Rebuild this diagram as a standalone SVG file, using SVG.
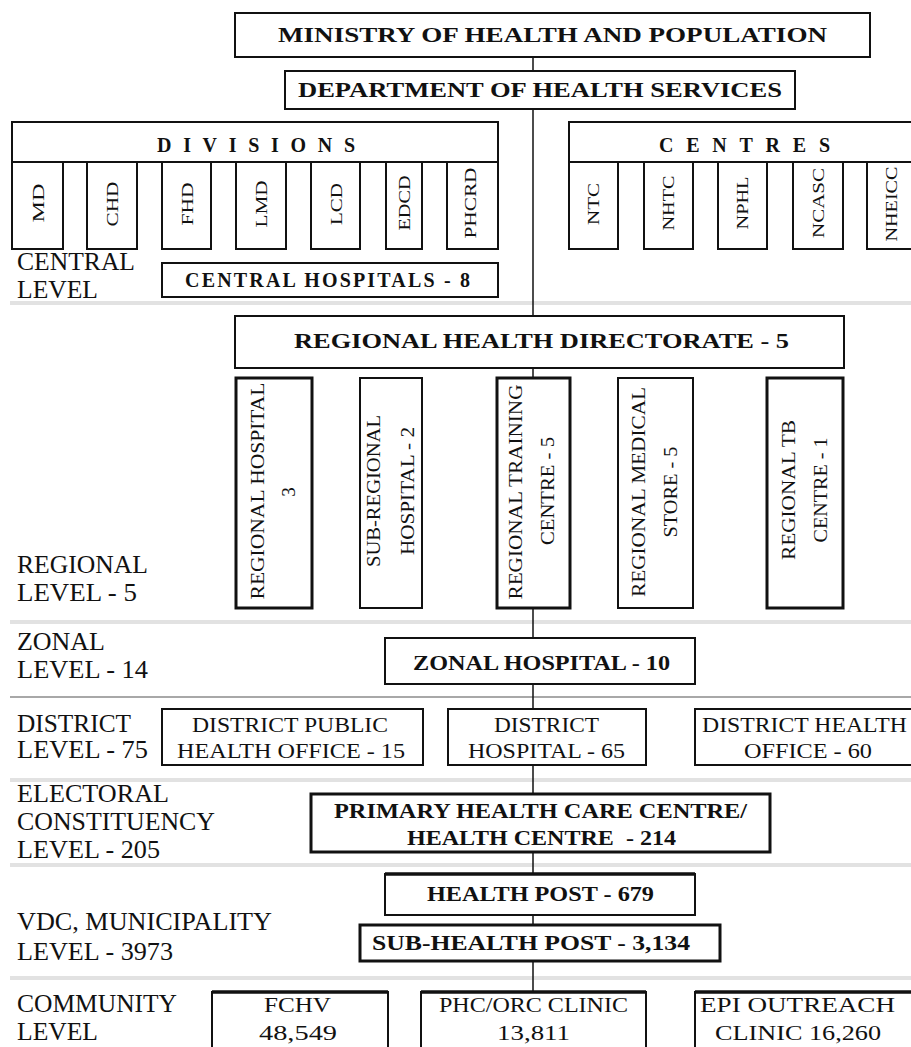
<svg xmlns="http://www.w3.org/2000/svg" width="911" height="1047" viewBox="0 0 911 1047">
<style>
text{font-family:"Liberation Serif","Times New Roman",serif;fill:#111}
.h{font-size:20px;font-weight:bold}
.lab{font-size:25px}
.t{font-size:22px}
.v{font-size:17px}
.rv{font-size:19px}
.box{fill:#fff;stroke:#111;stroke-width:2}
.thick{fill:#fff;stroke:#111;stroke-width:3}
.sep{stroke:#e2e2e2;stroke-width:4}
.sep2{stroke:#a8a8a8;stroke-width:2}
.con{stroke:#111;stroke-width:1.5;fill:none}
</style>
<rect width="911" height="1047" fill="#fff"/>
<g id="separators">
<line class="sep" x1="10" y1="303" x2="911" y2="303"/>
<line class="sep" x1="10" y1="622" x2="911" y2="622"/>
<line class="sep2" x1="10" y1="697" x2="911" y2="697"/>
<line class="sep" x1="10" y1="780" x2="911" y2="780"/>
<line class="sep" x1="10" y1="865" x2="911" y2="865"/>
<line class="sep" x1="10" y1="978" x2="911" y2="978"/>
</g>
<g id="connectors">
<line class="con" x1="533" y1="57" x2="533" y2="992"/>
</g>
<g id="levels">
<text class="lab" x="17" y="270" textLength="118" lengthAdjust="spacingAndGlyphs">CENTRAL</text>
<text class="lab" x="17" y="298" textLength="81" lengthAdjust="spacingAndGlyphs">LEVEL</text>
<text class="lab" x="17" y="573" textLength="131" lengthAdjust="spacingAndGlyphs">REGIONAL</text>
<text class="lab" x="17" y="601" textLength="120" lengthAdjust="spacingAndGlyphs">LEVEL - 5</text>
<text class="lab" x="17" y="650" textLength="88" lengthAdjust="spacingAndGlyphs">ZONAL</text>
<text class="lab" x="17" y="678" textLength="131" lengthAdjust="spacingAndGlyphs">LEVEL - 14</text>
<text class="lab" x="17" y="732" textLength="114" lengthAdjust="spacingAndGlyphs">DISTRICT</text>
<text class="lab" x="17" y="758" textLength="131" lengthAdjust="spacingAndGlyphs">LEVEL - 75</text>
<text class="lab" x="17" y="802" textLength="152" lengthAdjust="spacingAndGlyphs">ELECTORAL</text>
<text class="lab" x="17" y="830" textLength="198" lengthAdjust="spacingAndGlyphs">CONSTITUENCY</text>
<text class="lab" x="17" y="858" textLength="143" lengthAdjust="spacingAndGlyphs">LEVEL - 205</text>
<text class="lab" x="17" y="930" textLength="255" lengthAdjust="spacingAndGlyphs">VDC, MUNICIPALITY</text>
<text class="lab" x="17" y="960" textLength="156" lengthAdjust="spacingAndGlyphs">LEVEL - 3973</text>
<text class="lab" x="17" y="1012" textLength="160" lengthAdjust="spacingAndGlyphs">COMMUNITY</text>
<text class="lab" x="17" y="1040" textLength="81" lengthAdjust="spacingAndGlyphs">LEVEL</text>
</g>
<g id="ministry">
<rect class="box" x="235" y="13" width="635" height="44" stroke-width="2.5"/>
<text class="h" x="278" y="42" textLength="549" lengthAdjust="spacingAndGlyphs">MINISTRY OF HEALTH AND POPULATION</text>
</g>
<g id="department">
<rect class="box" x="285" y="71" width="510" height="38" stroke-width="2.5"/>
<text class="h" x="298" y="97" textLength="484" lengthAdjust="spacingAndGlyphs">DEPARTMENT OF HEALTH SERVICES</text>
</g>
<g id="divisions">
<rect class="box" x="12" y="122" width="486" height="40"/>
<text class="h" x="157" y="152" textLength="198">DIVISIONS</text>
<rect class="box" x="12" y="162" width="51" height="87"/>
<rect class="box" x="87" y="162" width="50" height="87"/>
<rect class="box" x="162" y="162" width="49" height="87"/>
<rect class="box" x="236" y="162" width="50" height="87"/>
<rect class="box" x="311" y="162" width="49" height="87"/>
<rect class="box" x="386" y="162" width="36" height="87"/>
<rect class="box" x="447" y="162" width="51" height="87"/>
<text class="v" text-anchor="middle" x="0" y="6" transform="translate(38,203) rotate(-90)" textLength="39" lengthAdjust="spacingAndGlyphs">MD</text>
<text class="v" text-anchor="middle" x="0" y="6" transform="translate(112,204) rotate(-90)" textLength="45" lengthAdjust="spacingAndGlyphs">CHD</text>
<text class="v" text-anchor="middle" x="0" y="6" transform="translate(187,204) rotate(-90)" textLength="43" lengthAdjust="spacingAndGlyphs">FHD</text>
<text class="v" text-anchor="middle" x="0" y="6" transform="translate(261,204) rotate(-90)" textLength="47" lengthAdjust="spacingAndGlyphs">LMD</text>
<text class="v" text-anchor="middle" x="0" y="6" transform="translate(336,204) rotate(-90)" textLength="42" lengthAdjust="spacingAndGlyphs">LCD</text>
<text class="v" text-anchor="middle" x="0" y="6" transform="translate(404,203) rotate(-90)" textLength="55" lengthAdjust="spacingAndGlyphs">EDCD</text>
<text class="v" text-anchor="middle" x="0" y="6" transform="translate(470,203) rotate(-90)" textLength="71" lengthAdjust="spacingAndGlyphs">PHCRD</text>
</g>
<g id="centres">
<rect class="box" x="569" y="122" width="360" height="40"/>
<text class="h" x="659" y="152" textLength="171">CENTRES</text>
<rect class="box" x="569" y="162" width="49" height="87"/>
<rect class="box" x="644" y="162" width="49" height="87"/>
<rect class="box" x="718" y="162" width="49" height="87"/>
<rect class="box" x="793" y="162" width="50" height="87"/>
<rect class="box" x="867" y="162" width="60" height="87"/>
<text class="v" text-anchor="middle" x="0" y="6" transform="translate(593,204) rotate(-90)" textLength="42" lengthAdjust="spacingAndGlyphs">NTC</text>
<text class="v" text-anchor="middle" x="0" y="6" transform="translate(668,203) rotate(-90)" textLength="55" lengthAdjust="spacingAndGlyphs">NHTC</text>
<text class="v" text-anchor="middle" x="0" y="6" transform="translate(742,203) rotate(-90)" textLength="53" lengthAdjust="spacingAndGlyphs">NPHL</text>
<text class="v" text-anchor="middle" x="0" y="6" transform="translate(818,203) rotate(-90)" textLength="70" lengthAdjust="spacingAndGlyphs">NCASC</text>
<text class="v" text-anchor="middle" x="0" y="6" transform="translate(891,204) rotate(-90)" textLength="75" lengthAdjust="spacingAndGlyphs">NHEICC</text>
</g>
<g id="central-hospitals">
<rect class="box" x="162" y="263" width="336" height="34"/>
<text class="h" x="185" y="287" textLength="285">CENTRAL HOSPITALS - 8</text>
</g>
<g id="rhd">
<rect class="box" x="235" y="316" width="609" height="52"/>
<text class="h" x="294" y="348" textLength="495" lengthAdjust="spacingAndGlyphs">REGIONAL HEALTH DIRECTORATE - 5</text>
</g>
<g id="regional-hospital">
<rect class="thick" x="236" y="378" width="76" height="230"/>
<text class="rv" text-anchor="middle" x="0" y="6.5" transform="translate(257,491) rotate(-90)" textLength="217" lengthAdjust="spacingAndGlyphs">REGIONAL HOSPITAL</text>
<text class="rv" text-anchor="middle" x="0" y="6.5" transform="translate(288,492) rotate(-90)">3</text>
</g>
<g id="sub-regional-hospital">
<rect class="box" x="360" y="378" width="62" height="230"/>
<text class="rv" text-anchor="middle" x="0" y="6.5" transform="translate(373,491) rotate(-90)" textLength="152" lengthAdjust="spacingAndGlyphs">SUB-REGIONAL</text>
<text class="rv" text-anchor="middle" x="0" y="6.5" transform="translate(407,491) rotate(-90)" textLength="128" lengthAdjust="spacingAndGlyphs">HOSPITAL - 2</text>
</g>
<g id="regional-training-centre">
<rect class="thick" x="497" y="378" width="73" height="230"/>
<text class="rv" text-anchor="middle" x="0" y="6.5" transform="translate(515,492) rotate(-90)" textLength="215" lengthAdjust="spacingAndGlyphs">REGIONAL TRAINING</text>
<text class="rv" text-anchor="middle" x="0" y="6.5" transform="translate(547,491) rotate(-90)" textLength="108" lengthAdjust="spacingAndGlyphs">CENTRE - 5</text>
</g>
<g id="regional-medical-store">
<rect class="box" x="618" y="378" width="75" height="230"/>
<text class="rv" text-anchor="middle" x="0" y="6.5" transform="translate(638,492) rotate(-90)" textLength="210" lengthAdjust="spacingAndGlyphs">REGIONAL MEDICAL</text>
<text class="rv" text-anchor="middle" x="0" y="6.5" transform="translate(670,492) rotate(-90)" textLength="91" lengthAdjust="spacingAndGlyphs">STORE - 5</text>
</g>
<g id="regional-tb-centre">
<rect class="thick" x="767" y="378" width="76" height="230"/>
<text class="rv" text-anchor="middle" x="0" y="6.5" transform="translate(788,490) rotate(-90)" textLength="140" lengthAdjust="spacingAndGlyphs">REGIONAL TB</text>
<text class="rv" text-anchor="middle" x="0" y="6.5" transform="translate(820,490) rotate(-90)" textLength="105" lengthAdjust="spacingAndGlyphs">CENTRE - 1</text>
</g>
<g id="zonal-hospital">
<rect class="box" x="385" y="638" width="310" height="46"/>
<text class="h" x="413" y="670" textLength="257" lengthAdjust="spacingAndGlyphs">ZONAL HOSPITAL - 10</text>
</g>
<g id="dpho">
<rect class="box" x="162" y="709" width="261" height="56"/>
<text class="t" x="192" y="732" textLength="196" lengthAdjust="spacingAndGlyphs">DISTRICT PUBLIC</text>
<text class="t" x="177" y="758" textLength="228" lengthAdjust="spacingAndGlyphs">HEALTH OFFICE - 15</text>
</g>
<g id="district-hospital">
<rect class="box" x="448" y="709" width="198" height="56"/>
<text class="t" x="494" y="732" textLength="105" lengthAdjust="spacingAndGlyphs">DISTRICT</text>
<text class="t" x="468" y="758" textLength="157" lengthAdjust="spacingAndGlyphs">HOSPITAL - 65</text>
</g>
<g id="dho">
<rect class="box" x="695" y="709" width="230" height="56"/>
<text class="t" x="702" y="732" textLength="205" lengthAdjust="spacingAndGlyphs">DISTRICT HEALTH</text>
<text class="t" x="744" y="758" textLength="128" lengthAdjust="spacingAndGlyphs">OFFICE - 60</text>
</g>
<g id="phcc">
<rect class="thick" x="311" y="794" width="459" height="58"/>
<text class="h" x="334" y="818" textLength="413" lengthAdjust="spacingAndGlyphs">PRIMARY HEALTH CARE CENTRE/</text>
<text class="h" x="407" y="845" textLength="269" lengthAdjust="spacingAndGlyphs" xml:space="preserve">HEALTH CENTRE  - 214</text>
</g>
<g id="health-post">
<rect class="box" x="385" y="874" width="310" height="41"/>
<line x1="385" y1="874" x2="695" y2="874" stroke="#111" stroke-width="3.5"/>
<text class="h" x="427" y="901" textLength="227" lengthAdjust="spacingAndGlyphs">HEALTH POST - 679</text>
</g>
<g id="sub-health-post">
<rect class="thick" x="360" y="925" width="360" height="36"/>
<text class="h" x="372" y="950" textLength="318" lengthAdjust="spacingAndGlyphs">SUB-HEALTH POST - 3,134</text>
</g>
<g id="fchv">
<rect class="box" x="212" y="992" width="176" height="70"/>
<line x1="212" y1="992" x2="388" y2="992" stroke="#111" stroke-width="3.5"/>
<text class="t" x="264" y="1012" textLength="67" lengthAdjust="spacingAndGlyphs">FCHV</text>
<text class="t" x="259" y="1040" textLength="78" lengthAdjust="spacingAndGlyphs">48,549</text>
</g>
<g id="phc-orc">
<rect class="box" x="421" y="992" width="225" height="70"/>
<line x1="421" y1="992" x2="646" y2="992" stroke="#111" stroke-width="3.5"/>
<text class="t" x="439" y="1012" textLength="189" lengthAdjust="spacingAndGlyphs">PHC/ORC CLINIC</text>
<text class="t" x="497" y="1040" textLength="73" lengthAdjust="spacingAndGlyphs">13,811</text>
</g>
<g id="epi">
<rect class="box" x="695" y="992" width="230" height="70"/>
<line x1="695" y1="992" x2="911" y2="992" stroke="#111" stroke-width="3.5"/>
<text class="t" x="700" y="1012" textLength="195" lengthAdjust="spacingAndGlyphs">EPI OUTREACH</text>
<text class="t" x="715" y="1040" textLength="166" lengthAdjust="spacingAndGlyphs">CLINIC 16,260</text>
</g>
</svg>
